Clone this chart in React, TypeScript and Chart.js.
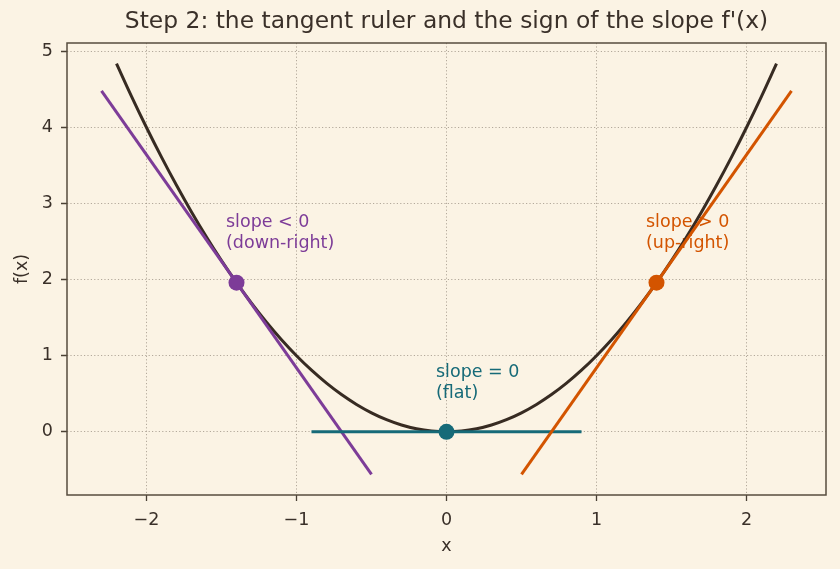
import React, { useEffect, useRef } from "react";
import { Chart, registerables } from "chart.js";

Chart.register(...registerables);

const titleText = "Step 2: the tangent ruler and the sign of the slope f'(x)";
const xAxisLabel = "x";
const yAxisLabel = "f(x)";

const xTicks = [-2, -1, 0, 1, 2];
const yTicks = [0, 1, 2, 3, 4, 5];

const curveX = [-2.2, -2.1, -2.0, -1.9, -1.8, -1.7, -1.6, -1.5, -1.4, -1.3, -1.2, -1.1, -1.0, -0.9, -0.8, -0.7, -0.6, -0.5, -0.4, -0.3, -0.2, -0.1, 0, 0.1, 0.2, 0.3, 0.4, 0.5, 0.6, 0.7, 0.8, 0.9, 1.0, 1.1, 1.2, 1.3, 1.4, 1.5, 1.6, 1.7, 1.8, 1.9, 2.0, 2.1, 2.2];
const curveY = [4.84, 4.41, 4.0, 3.61, 3.24, 2.89, 2.56, 2.25, 1.96, 1.69, 1.44, 1.21, 1.0, 0.81, 0.64, 0.49, 0.36, 0.25, 0.16, 0.09, 0.04, 0.01, 0, 0.01, 0.04, 0.09, 0.16, 0.25, 0.36, 0.49, 0.64, 0.81, 1.0, 1.21, 1.44, 1.69, 1.96, 2.25, 2.56, 2.89, 3.24, 3.61, 4.0, 4.41, 4.84];

const negTangentX = [-2.3, -0.5];
const negTangentY = [4.48, -0.56];
const flatTangentX = [-0.9, 0.9];
const flatTangentY = [0, 0];
const posTangentX = [0.5, 2.3];
const posTangentY = [-0.56, 4.48];

const pointX = [-1.4, 0, 1.4];
const pointY = [1.96, 0, 1.96];

const annX = [-1.47, -0.07, 1.33];
const annY = [2.36, 0.39, 2.36];
const annLine1 = ["slope < 0", "slope = 0", "slope > 0"];
const annLine2 = ["(down-right)", "(flat)", "(up-right)"];

const BG = "#fbf3e4";
const INK = "#3a3029";
const CURVE = "#372b22";
const PURPLE = "#7d3c98";
const TEAL = "#166a78";
const ORANGE = "#d35400";
const annColors = [PURPLE, TEAL, ORANGE];
const pointColors = [PURPLE, TEAL, ORANGE];
const FONT = "'DejaVu Sans', sans-serif";

const zip = (xs: number[], ys: number[]) => xs.map((x, i) => ({ x, y: ys[i] }));

const decor = {
  id: "decor",
  beforeDraw(chart: any) {
    const ctx = chart.ctx;
    ctx.save();
    ctx.fillStyle = BG;
    ctx.fillRect(0, 0, chart.width, chart.height);
    ctx.restore();
  },
  beforeDatasetsDraw(chart: any) {
    const ctx = chart.ctx;
    const xs = chart.scales.x;
    const ys = chart.scales.y;
    ctx.save();
    ctx.font = `17.5px ${FONT}`;
    ctx.textAlign = "left";
    ctx.textBaseline = "bottom";
    annX.forEach((ax, i) => {
      const px = xs.getPixelForValue(ax);
      const py = ys.getPixelForValue(annY[i]);
      ctx.fillStyle = annColors[i];
      ctx.fillText(annLine2[i], px, py);
      ctx.fillText(annLine1[i], px, py - 21);
    });
    ctx.restore();
  },
  afterDraw(chart: any) {
    const ctx = chart.ctx;
    const a = chart.chartArea;
    ctx.save();
    ctx.strokeStyle = "#574c3e";
    ctx.lineWidth = 1.5;
    ctx.strokeRect(a.left, a.top, a.right - a.left, a.bottom - a.top);
    const cx = (a.left + a.right) / 2;
    ctx.fillStyle = INK;
    ctx.textAlign = "center";
    ctx.textBaseline = "middle";
    ctx.font = `23.4px ${FONT}`;
    ctx.fillText(titleText, cx, 22);
    ctx.font = `17.5px ${FONT}`;
    ctx.fillText(xAxisLabel, cx, 546);
    ctx.translate(22, (a.top + a.bottom) / 2);
    ctx.rotate(-Math.PI / 2);
    ctx.fillText(yAxisLabel, 0, 0);
    ctx.restore();
  },
};

export default function App() {
  const ref = useRef<HTMLCanvasElement | null>(null);
  useEffect(() => {
    document.body.style.margin = "0";
    document.body.style.background = BG;
    if (!ref.current) return;
    const gridCommon = {
      color: "rgba(150,140,125,0.8)",
      lineWidth: 0.9,
      tickColor: "#4a4034",
      tickBorderDash: [1, 0],
      tickLength: 6,
      tickWidth: 1.3,
      drawTicks: true,
    };
    const borderCommon = { display: false, dash: [1.2, 2.2] };
    const chart = new Chart(ref.current, {
      type: "scatter",
      data: {
        datasets: [
          {
            data: zip(pointX, pointY),
            showLine: false,
            pointRadius: 8,
            pointHoverRadius: 8,
            pointBackgroundColor: pointColors,
            pointBorderColor: pointColors,
            pointBorderWidth: 0,
          },
          {
            data: zip(posTangentX, posTangentY),
            showLine: true,
            borderColor: ORANGE,
            borderWidth: 3,
            pointRadius: 0,
          },
          {
            data: zip(flatTangentX, flatTangentY),
            showLine: true,
            borderColor: TEAL,
            borderWidth: 3,
            pointRadius: 0,
          },
          {
            data: zip(negTangentX, negTangentY),
            showLine: true,
            borderColor: PURPLE,
            borderWidth: 3,
            pointRadius: 0,
          },
          {
            data: zip(curveX, curveY),
            showLine: true,
            borderColor: CURVE,
            borderWidth: 3,
            pointRadius: 0,
            cubicInterpolationMode: "monotone",
          },
        ],
      },
      options: {
        animation: false,
        responsive: false,
        devicePixelRatio: 1,
        layout: { padding: { top: 43, right: 14, left: 0, bottom: 0 } },
        plugins: {
          legend: { display: false },
          title: { display: false },
          tooltip: { enabled: false },
        },
        events: [],
        scales: {
          x: {
            type: "linear",
            min: -2.53,
            max: 2.53,
            afterBuildTicks: (s: any) => {
              s.ticks = xTicks.map((v) => ({ value: v }));
            },
            afterFit: (s: any) => {
              s.height = 74;
            },
            ticks: {
              color: INK,
              font: { family: FONT, size: 17.5 },
              padding: 9,
              maxRotation: 0,
              autoSkip: false,
              callback: (v: any) => String(v).replace("-", "\u2212"),
            },
            grid: gridCommon,
            border: borderCommon,
          },
          y: {
            type: "linear",
            min: -0.83,
            max: 5.11,
            afterBuildTicks: (s: any) => {
              s.ticks = yTicks.map((v) => ({ value: v }));
            },
            afterFit: (s: any) => {
              s.width = 67;
            },
            ticks: {
              color: INK,
              font: { family: FONT, size: 17.5 },
              padding: 8,
              autoSkip: false,
              callback: (v: any) => String(v).replace("-", "\u2212"),
            },
            grid: gridCommon,
            border: borderCommon,
          },
        },
      },
      plugins: [decor],
    } as any);
    return () => chart.destroy();
  }, []);
  return <canvas ref={ref} width={840} height={569} style={{ display: "block" }} />;
}
